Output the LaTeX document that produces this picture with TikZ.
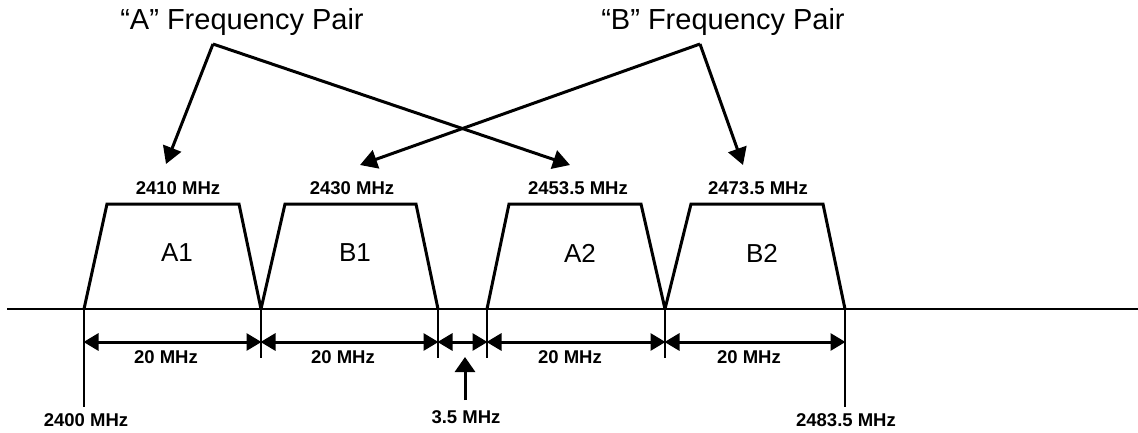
\documentclass[tikz,border=0pt]{standalone}
\usepackage{fontspec}
\setmainfont{Liberation Sans}
\usetikzlibrary{arrows.meta}
\tikzset{
  title/.style={font=\fontsize{29}{32}\selectfont, inner sep=0pt},
  blocklabel/.style={font=\fontsize{26}{28}\selectfont, inner sep=0pt},
  freqlabel/.style={font=\bfseries\fontsize{18.5}{20}\selectfont, inner sep=0pt},
  pairarrow/.style={line width=3pt, -{Triangle[length=17pt,width=19pt]}},
  dimarrow/.style={line width=3pt, {Triangle[length=15pt,width=17pt]}-{Triangle[length=15pt,width=17pt]}, shorten <=-0.5pt, shorten >=-0.5pt},
  band/.style={line width=3pt, line join=miter},
  tick/.style={line width=2.5pt},
}
\begin{document}
\begin{tikzpicture}[x=1pt,y=-1pt]
\useasboundingbox (0,0) rectangle (1138,432);
% titles
\node[title] (tA) at (242,22) {“A” Frequency Pair};
\node[title] (tB) at (723,22) {“B” Frequency Pair};
\coordinate (apA) at (213,44);
\coordinate (apB) at (700,44);
\coordinate (tipA1) at (166,164);
\coordinate (tipA2) at (570,165);
\coordinate (tipB1) at (360,165);
\coordinate (tipB2) at (743,165);
\draw[pairarrow] (apA) -- (tipA1);
\draw[pairarrow] (apA) -- (tipA2);
\draw[pairarrow] (apB) -- (tipB1);
\draw[pairarrow] (apB) -- (tipB2);
% frequency labels
\node[freqlabel] (f1) at (178,188) {2410 MHz};
\node[freqlabel] (f2) at (352,188) {2430 MHz};
\node[freqlabel] (f3) at (578,188) {2453.5 MHz};
\node[freqlabel] (f4) at (758,188) {2473.5 MHz};
% baseline
\coordinate (bl0) at (7,309);
\coordinate (bl1) at (1138,309);
\draw[line width=2pt] (bl0) -- (bl1);
% band edges
\coordinate (e0) at (84,309);
\coordinate (e1) at (261,309);
\coordinate (e2) at (438,309);
\coordinate (e3) at (487,309);
\coordinate (e4) at (665,309);
\coordinate (e5) at (845,309);
% trapezoids
\draw[band] (e0) -- (107,204) -- (239,204) -- (e1);
\draw[band] (e1) -- (285,204) -- (416,204) -- (e2);
\draw[band] (e3) -- (509,204) -- (641,204) -- (e4);
\draw[band] (e4) -- (691,204) -- (823,204) -- (e5);
\node[blocklabel] (lA1) at (177,253) {A1};
\node[blocklabel] (lB1) at (355,253) {B1};
\node[blocklabel] (lA2) at (580,253) {A2};
\node[blocklabel] (lB2) at (762,253) {B2};
% ticks
\coordinate (k0) at (84,407);
\coordinate (k1) at (261,358);
\coordinate (k2) at (438,358);
\coordinate (k3) at (487,358);
\coordinate (k4) at (665,358);
\coordinate (k5) at (845,407);
\foreach \i in {0,...,5} \draw[tick] (e\i) -- (k\i);
% dimension arrows
\foreach \i/\j in {0/1,1/2,2/3,3/4,4/5}{
  \coordinate (d\i) at (e\i |- 0,342);
  \coordinate (dd\j) at (e\j |- 0,342);
  \draw[dimarrow] (d\i) -- (dd\j);
}
\node[freqlabel] (w1) at (166,357) {20 MHz};
\node[freqlabel] (w2) at (343,357) {20 MHz};
\node[freqlabel] (w3) at (570,357) {20 MHz};
\node[freqlabel] (w4) at (749,357) {20 MHz};
% 3.5 MHz
\node[freqlabel] (gap) at (466,417) {3.5 MHz};
\coordinate (gapbot) at (465,400);
\coordinate (gaptip) at (465,357);
\draw[line width=3pt, -{Triangle[length=15pt,width=20pt]}] (gapbot) -- (gaptip);
\node[freqlabel] (lo) at (86,420) {2400 MHz};
\node[freqlabel] (hi) at (846,420) {2483.5 MHz};
\end{tikzpicture}
\end{document}
